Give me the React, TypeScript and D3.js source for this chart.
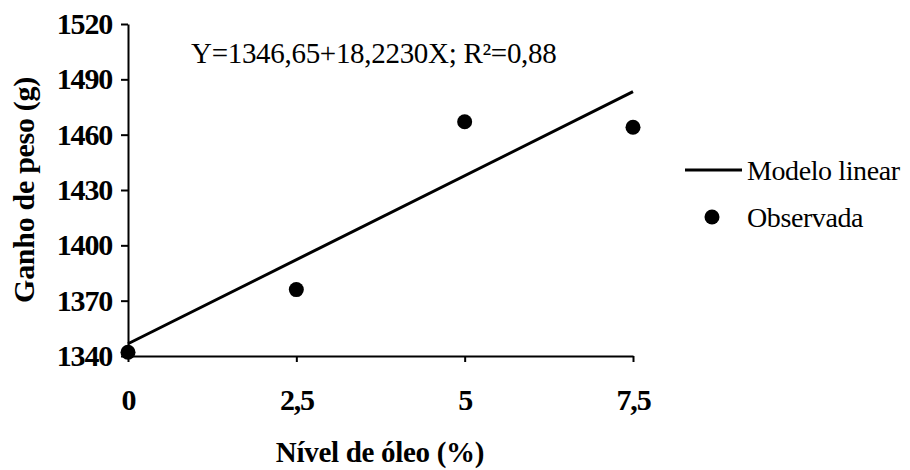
import { useEffect, useRef } from 'react';
import * as d3 from 'd3';

// Observed weight gain per oil level
const oilLevels = [0, 2.5, 5, 7.5];
const observedGain = [1342, 1376, 1467, 1464];

// Fitted linear model, read at its two ends
const fitX = [0, 7.5];
const fitY = [1346.65, 1483.3];

const yTicks = [1340, 1370, 1400, 1430, 1460, 1490, 1520];
const xTicks = [0, 2.5, 5, 7.5];

const equationLabel = 'Y=1346,65+18,2230X; R²=0,88';
const legendLabels = ['Modelo linear', 'Observada'];

export default function App() {
  const svgRef = useRef<SVGSVGElement>(null);

  useEffect(() => {
    if (!svgRef.current) return;
    const width = 910;
    const height = 470;
    const margin = { top: 24, right: 277, bottom: 114, left: 128 };
    const font = '"Liberation Serif", "Times New Roman", serif';

    d3.select(svgRef.current).selectAll('*').remove();
    const svg = d3.select(svgRef.current)
      .attr('width', width)
      .attr('height', height);

    const xScale = d3.scaleLinear()
      .domain([0, 7.5])
      .range([margin.left, width - margin.right]);

    const yScale = d3.scaleLinear()
      .domain([1340, 1520])
      .range([height - margin.bottom, margin.top]);

    // Axes
    const xAxis = svg.append('g')
      .attr('transform', `translate(0,${height - margin.bottom})`)
      .call(d3.axisBottom(xScale)
        .tickValues(xTicks)
        .tickSize(6)
        .tickPadding(27)
        .tickSizeOuter(0)
        .tickFormat(d => String(d).replace('.', ',')));

    const yAxis = svg.append('g')
      .attr('transform', `translate(${margin.left},0)`)
      .call(d3.axisLeft(yScale)
        .tickValues(yTicks)
        .tickSize(7)
        .tickPadding(9)
        .tickSizeOuter(0)
        .tickFormat(d => String(d)));

    [xAxis, yAxis].forEach(g => {
      g.select('.domain').attr('stroke', '#000').attr('stroke-width', 2);
      g.selectAll('.tick line').attr('stroke', '#000').attr('stroke-width', 2);
      g.selectAll('.tick text')
        .attr('fill', '#000')
        .style('font-family', font)
        .style('font-weight', 'bold')
        .style('font-size', '30px')
        .style('letter-spacing', '-1.2px');
    });

    // Axis titles
    svg.append('text')
      .attr('x', 380)
      .attr('y', 462)
      .attr('text-anchor', 'middle')
      .style('font-family', font)
      .style('font-weight', 'bold')
      .style('font-size', '29px')
      .style('letter-spacing', '-0.3px')
      .text('Nível de óleo (%)');

    svg.append('text')
      .attr('transform', 'translate(34,190) rotate(-90)')
      .attr('text-anchor', 'middle')
      .style('font-family', font)
      .style('font-weight', 'bold')
      .style('font-size', '30px')
      .style('letter-spacing', '-0.3px')
      .text('Ganho de peso (g)');

    // Fitted line
    const fitData = fitX.map((x, i) => ({ x, y: fitY[i] }));
    const line = d3.line<typeof fitData[0]>()
      .x(d => xScale(d.x))
      .y(d => yScale(d.y));

    svg.append('path')
      .datum(fitData)
      .attr('fill', 'none')
      .attr('stroke', '#000')
      .attr('stroke-width', 3)
      .attr('d', line);

    // Observed points
    svg.selectAll('.dot')
      .data(oilLevels.map((x, i) => ({ x, y: observedGain[i] })))
      .enter()
      .append('circle')
      .attr('class', 'dot')
      .attr('cx', d => xScale(d.x))
      .attr('cy', d => yScale(d.y))
      .attr('r', 7.5)
      .attr('fill', '#000');

    // Equation
    svg.append('text')
      .attr('x', 191)
      .attr('y', 63)
      .style('font-family', font)
      .style('font-size', '29px')
      .style('letter-spacing', '-0.3px')
      .text(equationLabel);

    // Legend
    const legend = svg.append('g').attr('transform', 'translate(685,170)');
    legend.append('line')
      .attr('x1', 0).attr('x2', 57)
      .attr('y1', 0).attr('y2', 0)
      .attr('stroke', '#000')
      .attr('stroke-width', 3);
    legend.append('circle')
      .attr('cx', 27).attr('cy', 47)
      .attr('r', 7.5)
      .attr('fill', '#000');
    legend.selectAll('.legend-label')
      .data(legendLabels)
      .enter()
      .append('text')
      .attr('class', 'legend-label')
      .attr('x', 62)
      .attr('y', (_, i) => i * 47 + 10)
      .style('font-family', font)
      .style('font-size', '28px')
      .style('letter-spacing', '-0.4px')
      .text(d => d);
  }, []);

  return (
    <svg
      ref={svgRef}
      style={{ position: 'absolute', left: 0, top: 0, background: '#fff' }}
    />
  );
}
